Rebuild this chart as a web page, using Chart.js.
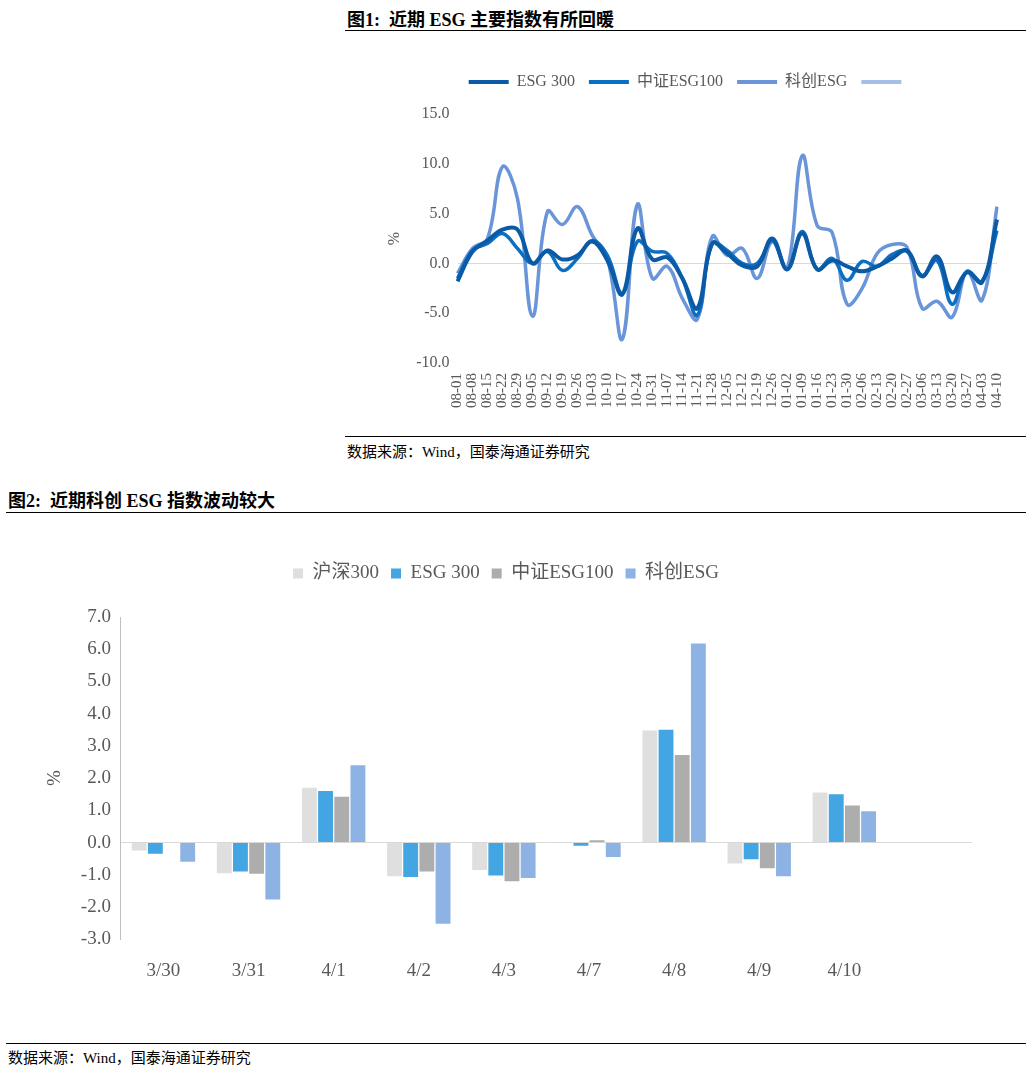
<!DOCTYPE html>
<html>
<head>
<meta charset="utf-8">
<script src="https://cdn.jsdelivr.net/npm/chart.js@4"></script>
<style>
body { margin: 0; background: #fff; font-family: "Liberation Serif", "Noto Sans CJK SC", serif; }
.title { position: absolute; font-weight: bold; font-size: 18px; color: #000; }
.rule { position: absolute; height: 0; border-top: 1px solid #000; }
.src { position: absolute; font-size: 15px; color: #000; }
canvas { position: absolute; }
</style>
</head>
<body>
<div class="title" style="left:347px;top:5px;">图1:&nbsp; 近期 ESG 主要指数有所回暖</div>
<div class="rule" style="left:345px;top:30px;width:681px;"></div>
<canvas id="lineChart" style="left:345px;top:40px;width:680px;height:390px;"></canvas>
<div class="rule" style="left:345px;top:436px;width:681px;"></div>
<div class="src" style="left:347px;top:440px;">数据来源：Wind，国泰海通证券研究</div>

<div class="title" style="left:8px;top:486px;">图2:&nbsp; 近期科创 ESG 指数波动较大</div>
<div class="rule" style="left:6px;top:512px;width:1020px;"></div>
<canvas id="barChart" style="left:0px;top:540px;width:1032px;height:500px;"></canvas>
<div class="rule" style="left:6px;top:1043px;width:1020px;"></div>
<div class="src" style="left:8px;top:1046px;">数据来源：Wind，国泰海通证券研究</div>

<script>
// top chart data
const weeks = ['08-01','08-08','08-15','08-22','08-29','09-05','09-12','09-19','09-26','10-03','10-10','10-17','10-24','10-31',
  '11-07','11-14','11-21','11-28','12-05','12-12','12-19','12-26','01-02','01-09','01-16','01-23','01-30','02-06','02-13',
  '02-20','02-27','03-06','03-13','03-20','03-27','04-03','04-10'];
const esg300 = [-1.8,1.2,2.3,3.4,3.4,0.0,1.3,0.4,0.8,2.2,0.3,-3.1,3.5,0.4,0.6,-1.5,-4.5,2.0,1.0,-0.2,-0.3,2.5,-0.6,3.0,-0.6,0.3,-0.3,-0.8,-0.3,0.5,1.3,-1.3,0.7,-2.9,-0.9,-1.9,4.4];
const esg100 = [-1.5,1.3,2.0,3.0,1.5,0.0,1.2,-0.7,0.5,2.3,0.8,-3.0,2.2,1.2,1.0,-1.5,-5.2,2.0,1.3,0.0,0.0,2.3,-0.6,3.2,-0.6,0.5,-1.7,0.2,-0.3,0.9,1.2,-1.2,0.3,-4.1,-0.8,-1.8,3.3];
const kcEsg = [-1.0,1.5,2.5,9.7,6.5,-5.3,5.2,3.9,5.7,2.8,0.5,-7.6,5.9,-1.5,-0.3,-3.5,-5.6,2.7,0.8,1.5,-1.5,2.2,-0.5,10.8,3.8,3.1,-4.1,-2.5,1.0,1.9,1.6,-4.5,-3.8,-5.4,-0.8,-3.7,5.7];

// bottom chart data
const days = ['3/30','3/31','4/1','4/2','4/3','4/7','4/8','4/9','4/10',''];
const hs300 = [-0.25,-0.95,1.7,-1.05,-0.85,0.0,3.48,-0.65,1.55,null];
const esg300d = [-0.35,-0.9,1.6,-1.07,-1.02,-0.1,3.5,-0.52,1.5,null];
const esg100d = [0.0,-0.97,1.42,-0.9,-1.2,0.07,2.72,-0.8,1.15,null];
const kcEsgd = [-0.6,-1.77,2.4,-2.52,-1.1,-0.45,6.18,-1.05,0.97,null];

const FONT = '"Liberation Serif", "Noto Sans CJK SC", serif';
Chart.defaults.font.family = FONT;
Chart.defaults.color = '#595959';
Chart.defaults.animation = false;

// extra space under the legend
const legendGap = gap => ({
  id: 'legendGap',
  beforeInit(chart) {
    const fit = chart.legend.fit;
    chart.legend.fit = function () { fit.bind(chart.legend)(); this.height += gap; };
  }
});

const lineDs = (label, data, color, w) => ({
  label, data, borderColor: color, backgroundColor: color, borderWidth: w,
  pointRadius: 0, tension: 0.4, fill: false
});

new Chart(document.getElementById('lineChart'), {
  type: 'line',
  data: {
    labels: weeks,
    datasets: [
      lineDs('ESG 300', esg300, '#0a5aa5', 4),
      lineDs('中证ESG100', esg100, '#0b70c4', 3.5),
      lineDs('科创ESG', kcEsg, '#6a95d8', 3.5),
      lineDs('', [], '#a3bfe8', 3.5)
    ]
  },
  options: {
    responsive: false,
    layout: { padding: { left: 36, right: 28, top: 20, bottom: 20 } },
    plugins: {
      legend: {
        labels: {
          color: '#595959', font: { size: 16 }, boxWidth: 40, boxHeight: 0, padding: 14,
          generateLabels: c => c.data.datasets.map((d, i) => ({
            text: d.label, strokeStyle: d.borderColor, fillStyle: d.borderColor,
            lineWidth: 4, datasetIndex: i, fontColor: '#595959'
          }))
        }
      },
      tooltip: { enabled: false }
    },
    scales: {
      y: {
        min: -10, max: 15,
        ticks: { stepSize: 5, callback: v => v.toFixed(1), font: { size: 16 }, color: '#595959', padding: 8 },
        grid: { color: c => c.tick.value === 0 ? '#d9d9d9' : 'transparent', drawTicks: false },
        border: { display: false },
        title: { display: true, text: '%', font: { size: 16 }, color: '#595959' }
      },
      x: {
        ticks: { autoSkip: false, maxRotation: 90, minRotation: 90, font: { size: 15 }, color: '#595959', padding: 2 },
        grid: { display: false },
        border: { display: false }
      }
    }
  },
  plugins: [legendGap(14)]
});

new Chart(document.getElementById('barChart'), {
  type: 'bar',
  data: {
    labels: days,
    datasets: [
      { label: '沪深300', data: hs300, backgroundColor: '#dfdfdf' },
      { label: 'ESG 300', data: esg300d, backgroundColor: '#43a6e2' },
      { label: '中证ESG100', data: esg100d, backgroundColor: '#adadad' },
      { label: '科创ESG', data: kcEsgd, backgroundColor: '#8db3e4' }
    ]
  },
  options: {
    responsive: false,
    datasets: { bar: { categoryPercentage: 0.76, barPercentage: 0.92 } },
    layout: { padding: { left: 40, right: 60, top: 12, bottom: 46 } },
    plugins: {
      legend: {
        labels: { color: '#595959', font: { size: 19 }, boxWidth: 10, boxHeight: 10, padding: 12 }
      },
      tooltip: { enabled: false }
    },
    scales: {
      y: {
        min: -3, max: 7,
        ticks: { stepSize: 1, callback: v => v.toFixed(1), font: { size: 19 }, color: '#595959', padding: 10 },
        grid: { color: c => c.tick.value === 0 ? '#d9d9d9' : 'transparent', drawTicks: false },
        border: { display: true, color: '#bfbfbf' },
        title: { display: true, text: '%', font: { size: 19 }, color: '#595959' }
      },
      x: {
        ticks: { font: { size: 19 }, color: '#595959', padding: 12 },
        grid: { display: false },
        border: { display: false }
      }
    }
  },
  plugins: [legendGap(24)]
});
</script>
</body>
</html>
